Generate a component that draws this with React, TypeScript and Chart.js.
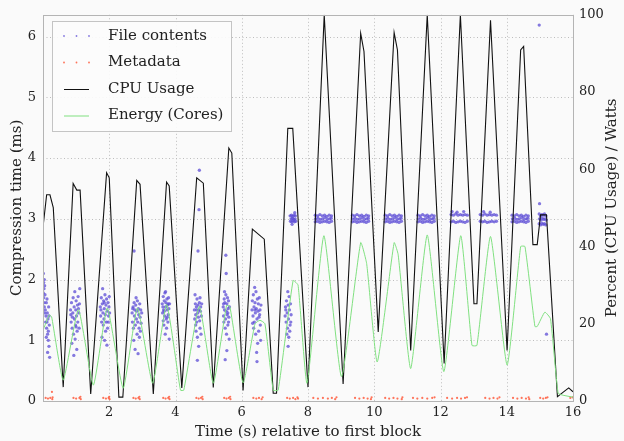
import { useEffect, useRef } from "react";
import { Chart, registerables } from "chart.js";

Chart.register(...registerables);

const FONT = "'DejaVu Serif', serif";

// x: seconds, left y: ms
const xTicks = [2, 4, 6, 8, 10, 12, 14, 16];
const leftTicks = [0, 1, 2, 3, 4, 5, 6];
const rightTicks = [0, 20, 40, 60, 80, 100];

// File contents, low-latency phases (t, ms)
const fileClusters: [number, number][] = [
  [0.01, 2.1], [0.02, 1.95], [0.03, 1.85], [0.01, 1.78], [0.04, 2.0], [0.02, 1.7], [0.05, 1.9], [0.03, 1.62],
  [0.06, 1.75], [0.04, 1.55], [0.07, 1.5], [0.09, 1.4], [0.1, 1.62], [0.12, 1.3], [0.11, 1.2], [0.13, 1.45],
  [0.14, 1.1], [0.15, 1.35], [0.16, 1.0], [0.17, 1.55], [0.18, 0.9], [0.19, 1.25], [0.14, 0.8], [0.12, 1.68],
  [0.08, 1.3], [0.16, 1.15], [0.18, 1.4], [0.2, 0.72], [0.1, 1.05], [0.05, 1.45],
  [0.83, 1.5], [0.85, 1.3], [0.86, 1.62], [0.88, 1.2], [0.9, 1.45], [0.91, 1.7], [0.92, 1.1], [0.94, 1.55],
  [0.95, 1.35], [0.96, 1.8], [0.98, 1.25], [0.99, 1.5], [1.0, 1.65], [1.01, 1.4], [1.03, 1.15], [1.04, 1.58],
  [1.05, 1.3], [1.06, 1.72], [1.08, 1.45], [1.09, 1.2], [1.1, 1.6], [1.11, 1.85], [0.87, 0.95], [0.93, 0.75],
  [0.97, 1.02], [1.02, 0.85], [0.89, 1.38], [1.07, 1.52], [0.84, 1.42], [1.0, 1.22],
  [1.73, 1.55], [1.74, 1.4], [1.76, 1.7], [1.77, 1.3], [1.79, 1.6], [1.8, 1.85], [1.81, 1.45], [1.83, 1.65],
  [1.84, 1.35], [1.85, 1.52], [1.87, 1.75], [1.88, 1.42], [1.9, 1.58], [1.91, 1.3], [1.92, 1.68], [1.94, 1.48],
  [1.95, 1.2], [1.96, 1.62], [1.98, 1.4], [1.99, 1.55], [2.0, 1.72], [1.78, 1.05], [1.86, 1.0], [1.93, 0.92],
  [1.82, 1.25], [1.89, 1.15], [1.97, 1.3], [1.75, 1.5], [2.01, 1.45], [1.85, 1.62],
  [2.69, 1.45], [2.7, 1.3], [2.72, 1.55], [2.73, 1.2], [2.75, 1.62], [2.76, 1.4], [2.77, 1.5], [2.79, 1.25],
  [2.8, 1.58], [2.82, 1.35], [2.83, 1.48], [2.85, 1.65], [2.86, 1.3], [2.88, 1.52], [2.89, 1.42], [2.9, 1.2],
  [2.92, 1.6], [2.93, 1.38], [2.95, 1.5], [2.96, 1.28], [2.98, 1.45], [2.74, 1.0], [2.78, 0.85], [2.84, 1.1],
  [2.87, 0.78], [2.91, 1.05], [2.81, 1.7], [2.75, 2.47], [2.94, 1.15], [2.71, 1.52],
  [3.6, 1.6], [3.61, 1.45], [3.63, 1.72], [3.64, 1.5], [3.66, 1.65], [3.67, 1.4], [3.68, 1.78], [3.7, 1.55],
  [3.71, 1.62], [3.72, 1.35], [3.74, 1.68], [3.75, 1.5], [3.76, 1.58], [3.78, 1.42], [3.79, 1.7], [3.8, 1.52],
  [3.82, 1.6], [3.65, 1.25], [3.69, 1.1], [3.73, 1.2], [3.77, 1.3], [3.81, 1.02], [3.62, 1.55], [3.7, 1.8],
  [3.66, 1.48], [3.75, 1.38], [3.63, 1.32], [3.78, 1.6],
  [4.57, 1.5], [4.58, 1.35], [4.6, 1.6], [4.61, 1.42], [4.63, 1.55], [4.64, 1.3], [4.65, 1.68], [4.67, 1.45],
  [4.68, 1.58], [4.69, 1.38], [4.71, 1.5], [4.72, 1.62], [4.73, 1.32], [4.75, 1.48], [4.76, 1.55], [4.78, 1.4],
  [4.79, 1.6], [4.62, 1.15], [4.66, 1.05], [4.7, 0.9], [4.74, 1.2], [4.77, 1.1], [4.59, 1.75], [4.72, 3.8],
  [4.71, 3.15], [4.68, 2.47], [4.66, 0.67], [4.64, 1.5], [4.74, 1.7], [4.61, 1.25],
  [5.44, 1.55], [5.45, 1.4], [5.47, 1.68], [5.48, 1.5], [5.49, 1.62], [5.51, 1.35], [5.52, 1.75], [5.53, 1.48],
  [5.55, 1.6], [5.56, 1.42], [5.57, 1.7], [5.59, 1.52], [5.6, 1.65], [5.61, 1.38], [5.63, 1.55], [5.46, 1.3],
  [5.5, 1.2], [5.54, 1.1], [5.58, 1.25], [5.62, 1.02], [5.52, 2.4], [5.55, 0.83], [5.5, 0.68], [5.48, 1.8],
  [5.58, 1.45], [5.45, 1.6], [5.53, 2.1], [5.6, 1.3],
  [6.31, 1.5], [6.32, 1.65], [6.34, 1.4], [6.35, 1.75], [6.37, 1.55], [6.38, 1.3], [6.4, 1.62], [6.41, 1.45],
  [6.43, 1.8], [6.44, 1.52], [6.46, 1.35], [6.47, 1.68], [6.49, 1.48], [6.5, 1.6], [6.52, 1.38], [6.53, 1.7],
  [6.55, 1.5], [6.56, 1.25], [6.58, 1.58], [6.36, 1.2], [6.42, 1.1], [6.48, 0.95], [6.45, 0.8], [6.51, 1.15],
  [6.39, 1.87], [6.54, 1.42], [6.33, 1.28], [6.57, 1.0], [6.46, 0.65], [6.4, 1.5],
  [7.31, 1.4], [7.32, 1.55], [7.34, 1.3], [7.35, 1.65], [7.37, 1.45], [7.38, 1.2], [7.4, 1.58], [7.41, 1.35],
  [7.43, 1.72], [7.44, 1.5], [7.46, 1.25], [7.47, 1.6], [7.49, 1.42], [7.36, 1.1], [7.42, 1.05], [7.39, 1.8],
  [7.45, 1.15], [7.33, 1.5], [7.48, 1.3], [7.4, 0.9],
];

// File contents, saturated phases (t, ms)
const fileBands: [number, number][] = [
  [7.46, 3.05], [7.5, 3.06], [7.54, 3.04], [7.58, 3.06], [7.62, 3.05], [7.47, 2.96], [7.51, 2.95], [7.55, 2.97],
  [7.59, 2.95], [7.63, 2.96], [7.49, 3.0], [7.53, 3.01], [7.57, 2.99], [7.61, 3.0], [7.52, 2.91], [7.6, 3.1],
  [8.22, 3.06], [8.29, 3.05], [8.36, 3.07], [8.43, 3.05], [8.5, 3.06], [8.57, 3.04], [8.64, 3.06], [8.71, 3.05],
  [8.23, 3.0], [8.3, 3.01], [8.37, 2.99], [8.44, 3.0], [8.51, 3.02], [8.58, 2.99], [8.65, 3.0], [8.7, 3.01],
  [8.22, 2.95], [8.29, 2.96], [8.36, 2.94], [8.43, 2.95], [8.5, 2.96], [8.57, 2.95], [8.64, 2.94], [8.71, 2.96],
  [9.34, 3.06], [9.41, 3.05], [9.48, 3.07], [9.55, 3.05], [9.62, 3.06], [9.69, 3.04], [9.76, 3.06], [9.83, 3.05],
  [9.35, 3.0], [9.42, 3.01], [9.49, 2.99], [9.56, 3.0], [9.63, 3.02], [9.7, 2.99], [9.77, 3.0], [9.82, 3.01],
  [9.34, 2.95], [9.41, 2.96], [9.48, 2.94], [9.55, 2.95], [9.62, 2.96], [9.69, 2.95], [9.76, 2.94], [9.83, 2.96],
  [10.33, 3.06], [10.4, 3.05], [10.47, 3.07], [10.54, 3.05], [10.61, 3.06], [10.68, 3.04], [10.75, 3.06], [10.82, 3.05],
  [10.34, 3.0], [10.41, 3.01], [10.48, 2.99], [10.55, 3.0], [10.62, 3.02], [10.69, 2.99], [10.76, 3.0], [10.81, 3.01],
  [10.33, 2.95], [10.4, 2.96], [10.47, 2.94], [10.54, 2.95], [10.61, 2.96], [10.68, 2.95], [10.75, 2.94], [10.82, 2.96],
  [11.32, 3.06], [11.39, 3.05], [11.46, 3.07], [11.53, 3.05], [11.6, 3.06], [11.67, 3.04], [11.74, 3.06], [11.81, 3.05],
  [11.33, 3.0], [11.4, 3.01], [11.47, 2.99], [11.54, 3.0], [11.61, 3.02], [11.68, 2.99], [11.75, 3.0], [11.8, 3.01],
  [11.32, 2.95], [11.39, 2.96], [11.46, 2.94], [11.53, 2.95], [11.6, 2.96], [11.67, 2.95], [11.74, 2.94], [11.81, 2.96],
  [12.32, 3.07], [12.39, 3.06], [12.46, 3.08], [12.53, 3.06], [12.6, 3.07], [12.67, 3.06], [12.74, 3.07], [12.81, 3.06],
  [12.32, 2.95], [12.39, 2.96], [12.46, 2.94], [12.53, 2.95], [12.6, 2.96], [12.67, 2.95], [12.74, 2.94], [12.81, 2.96],
  [12.35, 3.12], [12.5, 3.11], [12.7, 3.12],
  [13.2, 3.07], [13.27, 3.06], [13.34, 3.08], [13.41, 3.06], [13.48, 3.07], [13.55, 3.06], [13.62, 3.07], [13.69, 3.06],
  [13.2, 2.96], [13.27, 2.95], [13.34, 2.96], [13.41, 2.94], [13.48, 2.95], [13.55, 2.96], [13.62, 2.95], [13.69, 2.96],
  [13.3, 3.12], [13.5, 3.11],
  [14.16, 3.06], [14.23, 3.05], [14.3, 3.07], [14.37, 3.05], [14.44, 3.06], [14.51, 3.04], [14.58, 3.06], [14.65, 3.05],
  [14.17, 3.0], [14.24, 3.01], [14.31, 2.99], [14.38, 3.0], [14.45, 3.02], [14.52, 2.99], [14.59, 3.0], [14.64, 3.01],
  [14.16, 2.95], [14.23, 2.96], [14.3, 2.94], [14.37, 2.95], [14.44, 2.96], [14.51, 2.95], [14.58, 2.94], [14.65, 2.96],
  [14.98, 3.08], [15.02, 3.05], [15.06, 3.07], [15.1, 3.06], [15.14, 3.08], [15.18, 3.05],
  [14.99, 3.0], [15.03, 2.98], [15.07, 3.01], [15.11, 2.99], [15.15, 3.0], [15.19, 2.98],
  [14.98, 2.92], [15.02, 2.9], [15.06, 2.93], [15.1, 2.91], [15.14, 2.92], [15.18, 2.9],
  [14.99, 3.25], [14.98, 6.19], [15.2, 1.1],
];

// Metadata (t, ms)
const metadata: [number, number][] = [
  [0.08, 0.05], [0.15, 0.04], [0.22, 0.05], [0.28, 0.03], [0.29, 0.06], [0.27, 0.15],
  [0.92, 0.05], [1.0, 0.04], [1.1, 0.05], [1.14, 0.03], [1.13, 0.07],
  [1.82, 0.05], [1.9, 0.04], [1.98, 0.05], [2.01, 0.03], [2.0, 0.07],
  [2.73, 0.05], [2.8, 0.04], [2.88, 0.05], [2.92, 0.03], [2.91, 0.07],
  [3.63, 0.05], [3.7, 0.04], [3.78, 0.05], [3.82, 0.03], [3.81, 0.07],
  [4.63, 0.05], [4.7, 0.04], [4.77, 0.05], [4.82, 0.03], [4.81, 0.07],
  [5.47, 0.05], [5.54, 0.04], [5.61, 0.05], [5.66, 0.03], [5.65, 0.07],
  [6.35, 0.05], [6.44, 0.04], [6.52, 0.05], [6.6, 0.03], [6.63, 0.06],
  [7.37, 0.05], [7.45, 0.04], [7.55, 0.05], [7.62, 0.03], [7.68, 0.06], [7.7, 0.04],
  [8.16, 0.05], [8.3, 0.04], [8.45, 0.05], [8.6, 0.04], [8.72, 0.05], [8.82, 0.03], [8.86, 0.06],
  [9.42, 0.05], [9.55, 0.04], [9.68, 0.05], [9.8, 0.04], [9.9, 0.03], [9.92, 0.06],
  [10.33, 0.05], [10.45, 0.04], [10.58, 0.05], [10.7, 0.04], [10.83, 0.03], [10.85, 0.06],
  [11.17, 0.05], [11.3, 0.04], [11.45, 0.05], [11.6, 0.04], [11.75, 0.05], [11.82, 0.06],
  [12.2, 0.05], [12.35, 0.04], [12.5, 0.05], [12.62, 0.04], [12.74, 0.05], [12.8, 0.06],
  [13.35, 0.05], [13.48, 0.04], [13.6, 0.05], [13.72, 0.04], [13.78, 0.06],
  [14.19, 0.05], [14.32, 0.04], [14.45, 0.05], [14.58, 0.04], [14.66, 0.06], [14.68, 0.03],
  [15.01, 0.05], [15.1, 0.04], [15.18, 0.05], [15.23, 0.06],
  [15.92, 0.05], [15.99, 0.06],
];

// CPU usage (t, percent)
const cpuUsage: [number, number][] = [
  [0, 45], [0.11, 53.4], [0.21, 53.4], [0.31, 50.1], [0.61, 3.6], [0.91, 56.3], [1.02, 54.6], [1.12, 54.6],
  [1.44, 1.8], [1.92, 59.1], [2.0, 57.8], [2.29, 1.0], [2.41, 1.0], [2.83, 57.1], [2.93, 56.1], [3.33, 1.8],
  [3.73, 56.7], [3.81, 55.7], [4.19, 3.4], [4.64, 57.8], [4.84, 56.4], [5.14, 3.5], [5.61, 65.5], [5.7, 64.2],
  [6.04, 2.7], [6.32, 44.5], [6.68, 41.9], [6.95, 2.0], [7.05, 2.0], [7.39, 70.6], [7.54, 70.6], [8.0, 3.6],
  [8.49, 100], [9.06, 4.4], [9.59, 95.2], [9.69, 90.5], [10.12, 17.9], [10.6, 95.4], [10.7, 90.9], [11.1, 13.1],
  [11.6, 100], [12.11, 9.7], [12.6, 100], [13.01, 25.2], [13.1, 25.2], [13.51, 98.6], [14.01, 13.1], [14.42, 90.9],
  [14.51, 91.8], [14.79, 40.5], [14.92, 40.5], [15.02, 48.2], [15.2, 48.2], [15.53, 1.1], [15.87, 3.4], [16, 2.4],
];

// Energy, cores (t, watts)
const energyCores: [number, number][] = [
  [0, 18.3], [0.19, 22.3], [0.26, 21.8], [0.61, 5.4], [1.07, 23.7], [1.52, 4.1], [1.94, 24.1], [2.42, 3.3],
  [2.85, 24.1], [3.31, 4.6], [3.73, 25], [4.15, 2.8], [4.25, 2.8], [4.72, 24.5], [5.14, 4.6], [5.54, 24.7],
  [5.64, 24.5], [6.04, 4.7], [6.4, 20], [6.55, 20.9], [6.7, 20], [6.95, 2.8], [7.1, 2.8], [7.55, 31.2],
  [7.7, 30], [7.97, 4.6], [8.48, 42.8], [9.01, 6.3], [9.59, 41], [9.77, 35.6], [10.09, 10.1], [10.6, 41],
  [10.72, 38], [11.1, 8.4], [11.6, 43], [12.1, 7.6], [12.61, 42.8], [12.95, 14.4], [13.1, 14.4], [13.51, 42.6],
  [14.01, 9.3], [14.42, 40], [14.55, 40], [14.85, 19.3], [14.92, 19.3], [15.15, 23], [15.32, 21.3], [15.55, 2],
  [15.7, 1.5], [16, 1.0],
];

const labels = ["File contents", "Metadata", "CPU Usage", "Energy (Cores)"];
const xTitle = "Time (s) relative to first block";
const yTitle = "Compression time (ms)";
const y2Title = "Percent (CPU Usage) / Watts";
const BLUE = "rgba(92,76,214,0.75)";
const RED = "rgba(255,90,60,0.85)";
const BLACK = "#111111";
const GREEN = "#80e080";
const TEXT = "#222";

const toXY = (arr: [number, number][]) => arr.map(([x, y]) => ({ x, y }));

const bgPlugin = {
  id: "bgFrame",
  beforeDraw(chart: any) {
    const { ctx, width, height } = chart;
    ctx.save();
    ctx.fillStyle = "#fafafa";
    ctx.fillRect(0, 0, width, height);
    ctx.restore();
  },
  beforeDatasetsDraw(chart: any) {
    const { ctx, chartArea: a, scales } = chart;
    ctx.save();
    ctx.strokeStyle = "#bdbdbd";
    ctx.lineWidth = 1;
    ctx.setLineDash([1, 2.5]);
    xTicks.forEach((v) => {
      const px = Math.round(scales.x.getPixelForValue(v)) + 0.5;
      ctx.beginPath();
      ctx.moveTo(px, a.top);
      ctx.lineTo(px, a.bottom);
      ctx.stroke();
    });
    leftTicks.forEach((v) => {
      const py = Math.round(scales.y.getPixelForValue(v)) + 0.5;
      ctx.beginPath();
      ctx.moveTo(a.left, py);
      ctx.lineTo(a.right, py);
      ctx.stroke();
    });
    ctx.restore();
  },
  afterDatasetsDraw(chart: any) {
    const { ctx, chartArea: a } = chart;
    ctx.save();
    ctx.strokeStyle = "#b4b4b4";
    ctx.lineWidth = 1;
    ctx.strokeRect(Math.round(a.left) + 0.5, Math.round(a.top) + 0.5, Math.round(a.right - a.left), Math.round(a.bottom - a.top));
    // right axis title, reading bottom-to-top
    ctx.fillStyle = TEXT;
    ctx.font = "15px " + FONT;
    ctx.textAlign = "center";
    ctx.textBaseline = "middle";
    ctx.translate(chart.width - 12, (a.top + a.bottom) / 2);
    ctx.rotate(-Math.PI / 2);
    ctx.fillText(y2Title, 0, 0);
    ctx.restore();
  },
};

const legendPlugin = {
  id: "boxLegend",
  afterDraw(chart: any) {
    const ctx = chart.ctx;
    ctx.save();
    ctx.fillStyle = "rgba(252,252,252,0.92)";
    ctx.strokeStyle = "#c4c4c4";
    ctx.lineWidth = 1;
    ctx.fillRect(52.5, 21.5, 179, 110);
    ctx.strokeRect(52.5, 21.5, 179, 110);
    const rows = [36, 62.5, 89, 115.5];
    ctx.font = "15px " + FONT;
    ctx.textBaseline = "middle";
    chart.data.datasets.forEach((ds: any, i: number) => {
      const y = rows[i];
      if (ds.type === "line") {
        ctx.strokeStyle = ds.borderColor;
        ctx.lineWidth = 1;
        ctx.beginPath();
        ctx.moveTo(64, y + 0.5);
        ctx.lineTo(89, y + 0.5);
        ctx.stroke();
      } else {
        ctx.fillStyle = ds.backgroundColor;
        [64, 76.5, 89].forEach((x) => {
          ctx.beginPath();
          ctx.arc(x, y, 0.9, 0, Math.PI * 2);
          ctx.fill();
        });
      }
      ctx.fillStyle = TEXT;
      ctx.fillText(ds.label, 108, y);
    });
    ctx.restore();
  },
};

export default function App() {
  const ref = useRef<HTMLCanvasElement>(null);
  useEffect(() => {
    document.body.style.margin = "0";
    const tickFont = { family: FONT, size: 13 };
    const titleFont = { family: FONT, size: 15 };
    const chart = new Chart(ref.current!, {
      type: "scatter",
      data: {
        datasets: [
          {
            type: "scatter",
            label: labels[0],
            data: toXY([...fileClusters, ...fileBands]),
            backgroundColor: BLUE,
            borderWidth: 0,
            pointRadius: 1.65,
            yAxisID: "y",
            order: 3,
          },
          {
            type: "scatter",
            label: labels[1],
            data: toXY(metadata),
            backgroundColor: RED,
            borderWidth: 0,
            pointRadius: 1.1,
            yAxisID: "y",
            order: 2,
          },
          {
            type: "line",
            label: labels[2],
            data: toXY(cpuUsage),
            borderColor: BLACK,
            borderWidth: 1.1,
            pointRadius: 0,
            tension: 0,
            yAxisID: "y2",
            order: 1,
          },
          {
            type: "line",
            label: labels[3],
            data: toXY(energyCores),
            borderColor: GREEN,
            borderWidth: 1,
            pointRadius: 0,
            tension: 0.15,
            yAxisID: "y2",
            order: 0,
          },
        ] as any,
      },
      options: {
        responsive: false,
        animation: false,
        layout: { padding: { top: 13, left: 0, right: 0, bottom: 0 } },
        plugins: { legend: { display: false }, tooltip: { enabled: false }, title: { display: false } },
        scales: {
          x: {
            type: "linear",
            min: 0,
            max: 16,
            afterBuildTicks: (s: any) => {
              s.ticks = xTicks.map((v) => ({ value: v }));
            },
            afterFit: (s: any) => {
              s.height = 40;
            },
            grid: { display: false, drawTicks: false },
            border: { display: false },
            ticks: { font: tickFont, color: TEXT, padding: 4, maxRotation: 0 },
            title: { display: true, text: xTitle, font: titleFont, color: TEXT, padding: { top: 0, bottom: 0 } },
          },
          y: {
            type: "linear",
            position: "left",
            min: 0,
            max: 6.36,
            afterBuildTicks: (s: any) => {
              s.ticks = leftTicks.map((v) => ({ value: v }));
            },
            afterFit: (s: any) => {
              s.width = 43;
            },
            grid: { display: false, drawTicks: false },
            border: { display: false },
            ticks: { font: tickFont, color: TEXT, padding: 7 },
            title: { display: true, text: yTitle, font: titleFont, color: TEXT, padding: { top: 8, bottom: 0 } },
          },
          y2: {
            type: "linear",
            position: "right",
            min: 0,
            max: 100,
            afterBuildTicks: (s: any) => {
              s.ticks = rightTicks.map((v) => ({ value: v }));
            },
            afterFit: (s: any) => {
              s.width = 51;
            },
            grid: { display: false, drawTicks: false },
            border: { display: false },
            ticks: { font: tickFont, color: TEXT, padding: 6 },
            title: { display: false, text: y2Title },
          },
        },
      } as any,
      plugins: [bgPlugin, legendPlugin],
    });
    return () => chart.destroy();
  }, []);
  return (
    <div style={{ width: 624, height: 441 }}>
      <canvas ref={ref} width={624} height={441} />
    </div>
  );
}
